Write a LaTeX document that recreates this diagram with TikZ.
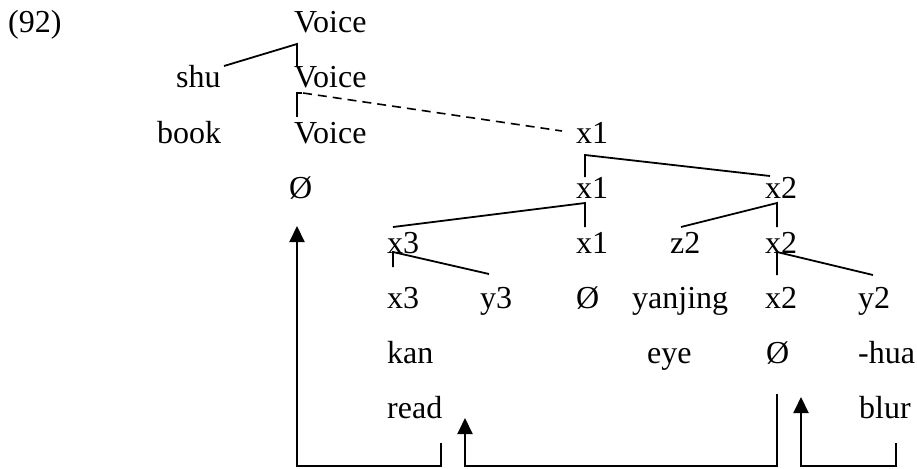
\documentclass[tikz,border=0pt]{standalone}
\usepackage{fontspec}
\setmainfont{Liberation Serif}
\usetikzlibrary{arrows.meta}
\begin{document}
\begin{tikzpicture}[x=1pt,y=-1pt,
  lbl/.style={anchor=base west,inner sep=0pt,font=\fontsize{32}{38}\selectfont},
  branch/.style={line width=1.8pt},
  dashbranch/.style={line width=1.6pt,dash pattern=on 9pt off 6pt},
  mover/.style={line width=2pt,-{Triangle[length=16pt,width=15pt]}},
  bar/.style={line width=2pt}]
\useasboundingbox (0,0) rectangle (917,468);
% texts
\node[lbl] (num) at (8,33) {(92)};
\node[lbl] (v1) at (294,33) {Voice};
\node[lbl] (shu) at (176,88) {shu};
\node[lbl] (v2) at (294,88) {Voice};
\node[lbl] (book) at (157,143) {book};
\node[lbl] (v3) at (294,143) {Voice};
\node[lbl] (xa) at (576,143) {x1};
\node[lbl] (e1) at (289,198) {Ø};
\node[lbl] (xb) at (576,198) {x1};
\node[lbl] (ya) at (765,198) {x2};
\node[lbl] (xc) at (387,253) {x3};
\node[lbl] (xd) at (576,253) {x1};
\node[lbl] (z2) at (670,253) {z2};
\node[lbl] (yb) at (765,253) {x2};
\node[lbl] (xe) at (387,308) {x3};
\node[lbl] (y3) at (480,308) {y3};
\node[lbl] (e2) at (576,308) {Ø};
\node[lbl] (yan) at (632,308) {yanjing};
\node[lbl] (yc) at (765,308) {x2};
\node[lbl] (y2) at (858,308) {y2};
\node[lbl] (kan) at (387,363) {kan};
\node[lbl] (eye) at (647,363) {eye};
\node[lbl] (e3) at (766,363) {Ø};
\node[lbl] (hua) at (858,363) {-hua};
\node[lbl] (read) at (387,418) {read};
\node[lbl] (blur) at (859,418) {blur};
% tree points
\coordinate (p1) at (297,44);
\coordinate (p1a) at (224,66);
\coordinate (p1b) at (297,67);
\coordinate (p2) at (297,93);
\coordinate (p2b) at (297,117);
\coordinate (p2d) at (562,131);
\coordinate (p3) at (585,155);
\coordinate (p3a) at (585,177);
\coordinate (p3b) at (770,176);
\coordinate (p4) at (585,203);
\coordinate (p4a) at (393,227);
\coordinate (p4b) at (585,227);
\coordinate (p5) at (777,203);
\coordinate (p5a) at (681,227);
\coordinate (p5b) at (777,227);
\coordinate (p6) at (393,252);
\coordinate (p6a) at (393,267);
\coordinate (p6b) at (489,274);
\coordinate (p7) at (777,252);
\coordinate (p7a) at (777,275);
\coordinate (p7b) at (873,275);
\draw[branch] (p1a) -- (p1) -- (p1b);
\draw[branch] (p2b) -- (p2) -- ++(5,0);
\draw[dashbranch] (p2) ++(6,0) -- (p2d);
\draw[branch] (p3a) -- (p3) -- (p3b);
\draw[branch] (p4a) -- (p4) -- (p4b);
\draw[branch] (p5a) -- (p5) -- (p5b);
\draw[branch] (p6a) -- (p6) -- (p6b);
\draw[branch] (p7a) -- (p7) -- (p7b);
% movement arrows
\coordinate (a1s) at (441,443);
\coordinate (a1t) at (297,226);
\coordinate (a2s) at (777,394);
\coordinate (a2t) at (465,418);
\coordinate (a3s) at (896,443);
\coordinate (a3t) at (801,397);
\draw[mover] (a1s) -- (441,466) -- (297,466) -- (a1t);
\draw[mover] (a2s) -- (777,466) -- (465,466) -- (a2t);
\draw[mover] (a3s) -- (896,466) -- (801,466) -- (a3t);
\end{tikzpicture}
\end{document}
